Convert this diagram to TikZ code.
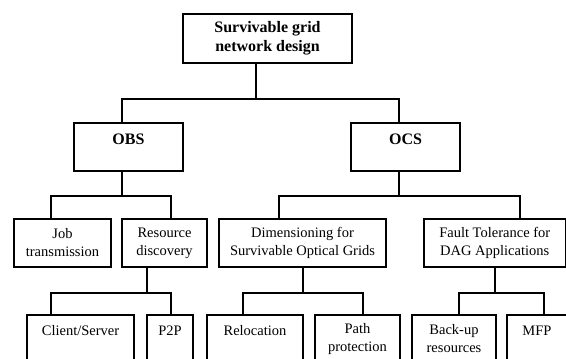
\documentclass[tikz,border=0pt]{standalone}
\usepackage{fontspec}
\setmainfont{Liberation Serif}

\begin{document}
\begin{tikzpicture}[x=1pt,y=-1pt,line width=1.8pt,
    every node/.style={draw,rectangle,inner sep=0pt,align=center,
      font=\fontsize{14.5}{18}\selectfont},
    head/.style={font=\fontsize{16}{18.6}\selectfont\bfseries},
    upper/.style={text height=21.5pt,text depth=26.5pt},
    lower/.style={text height=20pt,text depth=28pt}]
  \useasboundingbox (0,0) rectangle (566,359);
  \node[head,minimum width=169pt,minimum height=49pt] (sgnd)  at (267.5,38.5) {Survivable grid\\network design};
  \node[head,upper,minimum width=109pt]               (obs)   at (128.5,147)  {OBS};
  \node[head,upper,minimum width=109pt]               (ocs)   at (405.5,147)  {OCS};
  \node[minimum width=97pt,minimum height=48pt]       (job)   at (62.5,243)   {Job\\transmission};
  \node[minimum width=85pt,minimum height=48pt]       (resd)  at (164.5,243)  {Resource\\discovery};
  \node[minimum width=167pt,minimum height=48pt]      (dim)   at (302.5,243)  {Dimensioning for\\Survivable Optical Grids};
  \node[minimum width=141.5pt,minimum height=48pt]    (fault) at (494.75,243) {Fault Tolerance for\\DAG Applications};
  \node[lower,minimum width=107pt]                    (cs)    at (80.5,339)   {Client/Server};
  \node[lower,minimum width=46pt]                     (ptp)   at (170,339)    {P2P};
  \node[lower,minimum width=96pt]                     (reloc) at (255,339)    {Relocation};
  \node[minimum width=85pt,minimum height=48pt]       (pathp) at (357.5,339)  {Path\\protection};
  \node[minimum width=84pt,minimum height=48pt]       (backup) at (454,339)   {Back-up\\resources};
  \node[lower,minimum width=60pt]                     (mfp)   at (537,339)    {MFP};
  % first level
  \draw ([xshift=-11.5pt]sgnd.south) -- ++(0,35) coordinate (b1);
  \draw ([xshift=-6.5pt]obs.north) |- (b1) -| ([xshift=-6.5pt]ocs.north);
  % second level
  \draw ([xshift=-6.5pt]obs.south) -- ++(0,24) coordinate (b2);
  \draw ([xshift=-11.5pt]job.north) |- (b2) -| ([xshift=6.5pt]resd.north);
  \draw ([xshift=-6.5pt]ocs.south) -- ++(0,24) coordinate (b3);
  \draw ([xshift=-23.5pt]dim.north) |- (b3) -| ([xshift=25.25pt]fault.north);
  % third level
  \draw ([xshift=-17.5pt]resd.south) -- ++(0,25) coordinate (b4);
  \draw ([xshift=-29.5pt]cs.north) |- (b4) -| ([xshift=1pt]ptp.north);
  \draw ([xshift=0.5pt]dim.south) -- ++(0,25) coordinate (b5);
  \draw ([xshift=-12pt]reloc.north) |- (b5) -| ([xshift=5.5pt]pathp.north);
  \draw ([xshift=0.25pt]fault.south) -- ++(0,25) coordinate (b6);
  \draw ([xshift=5pt]backup.north) |- (b6) -| ([xshift=7pt]mfp.north);
\end{tikzpicture}
\end{document}
